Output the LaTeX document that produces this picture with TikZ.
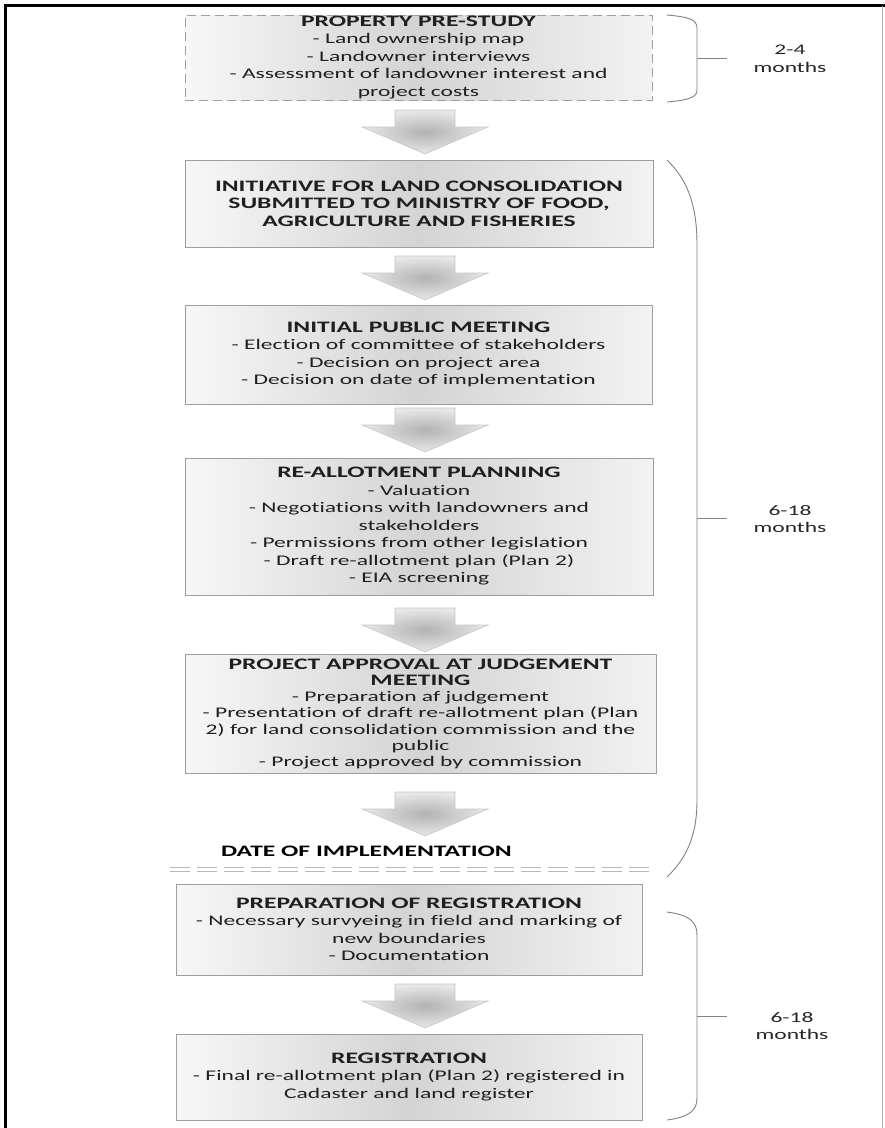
\documentclass[tikz,border=0pt]{standalone}
\usepackage{fontspec}
\setmainfont{Carlito}[FakeStretch=1.6,Ligatures=NoCommon]
\newcommand\bodyfont{\fontsize{14.7}{17.5}\selectfont}
\newcommand\ttl[1]{{\fontsize{16}{17.5}\selectfont\bfseries #1}}
\begin{document}
\begin{tikzpicture}[x=1pt,y=-1pt,
  box/.style={draw=black!38, line width=0.9pt, left color=black!3, right color=black!5, middle color=black!17,
    align=center, inner sep=0pt, font=\bodyfont, text=black!88},
  dbox/.style={box, dashed, dash pattern=on 9pt off 5pt},
  brace/.style={draw=black!50, line width=0.9pt},
  lbl/.style={align=center, font=\bodyfont, text=black!85, inner sep=1pt},
  sepline/.style={draw=black!28, line width=0.8pt, dash pattern=on 20pt off 7pt},
  barrow/.pic={\path[draw=black!22, line width=0.6pt, inner color=black!30, outer color=black!9]
     (-30,0) -- (30,0) -- (30,17) -- (63,17) -- (0,44) -- (-63,17) -- (-30,17) -- cycle;}
]
\useasboundingbox (0,0) rectangle (885,1128);
% frame
\draw[line width=3pt, black] (5,1128) -- (5,5) -- (885,5);
\draw[line width=0.8pt, black!30] (882,6) -- (882,1128);

% boxes
\node[dbox, minimum width=467, minimum height=85] (b1) at (418.5,57.5)
  {\ttl{PROPERTY PRE-STUDY}\\- Land ownership map\\- Landowner interviews\\- Assessment of landowner interest and\\project costs};
\node[box, minimum width=468, minimum height=87] (b2) at (419,203.5)
  {\ttl{INITIATIVE FOR LAND CONSOLIDATION}\\\ttl{SUBMITTED TO MINISTRY OF FOOD,}\\\ttl{AGRICULTURE AND FISHERIES}};
\node[box, minimum width=467, minimum height=99] (b3) at (418.5,354.5)
  {\ttl{INITIAL PUBLIC MEETING}\\- Election of committee of stakeholders\\- Decision on project area\\- Decision on date of implementation};
\node[box, minimum width=468, minimum height=137] (b4) at (419,526.5)
  {\ttl{RE-ALLOTMENT PLANNING}\\- Valuation\\- Negotiations with landowners and\\stakeholders\\- Permissions from other legislation\\- Draft re-allotment plan (Plan 2)\\- EIA screening};
\node[box, minimum width=471, minimum height=119, font=\fontsize{14.7}{16.3}\selectfont] (b5) at (420.5,714)
  {\ttl{PROJECT APPROVAL AT JUDGEMENT}\\\ttl{MEETING}\\- Preparation af judgement\\- Presentation of draft re-allotment plan (Plan\\2) for land consolidation commission and the\\public\\- Project approved by commission};
\node[anchor=west, inner sep=0pt, font=\fontsize{16}{17.5}\selectfont\bfseries] (doi) at (221,851) {DATE OF IMPLEMENTATION};
\node[box, minimum width=466, minimum height=91] (b6) at (409,929.5)
  {\ttl{PREPARATION OF REGISTRATION}\\- Necessary survyeing in field and marking of\\new boundaries\\- Documentation};
\node[box, minimum width=466, minimum height=86] (b7) at (409,1077)
  {\ttl{REGISTRATION}\\- Final re-allotment plan (Plan 2) registered in\\Cadaster and land register};

% block arrows
\pic at (425,110) {barrow};
\pic at (425,256) {barrow};
\pic at (425,408) {barrow};
\pic at (425,608) {barrow};
\pic at (425,792) {barrow};
\pic at (425,984) {barrow};

% implementation separator (double dashed)
\coordinate (s1) at (170,867);
\coordinate (s2) at (650,867);
\coordinate (s3) at (170,871);
\coordinate (s4) at (650,871);
\draw[sepline] (s1) -- (s2);
\draw[sepline] (s3) -- (s4);

% braces
\draw[brace] (667,15) .. controls (690,17) and (697,20) .. (697,28) -- (697,90) .. controls (697,97) and (690,100) .. (667,102);
\draw[brace] (667,160) .. controls (690,182) and (697,210) .. (697,245) -- (697,800) .. controls (697,830) and (690,855) .. (667,877);
\draw[brace] (667,912) .. controls (690,915) and (697,922) .. (697,935) -- (697,1098) .. controls (697,1110) and (690,1117) .. (667,1120);
\coordinate (t1a) at (697,58.5); \coordinate (t1b) at (727,58.5);
\coordinate (t2a) at (697,518.5); \coordinate (t2b) at (727,518.5);
\coordinate (t3a) at (697,1016); \coordinate (t3b) at (727,1016);
\draw[brace] (t1a) -- (t1b);
\draw[brace] (t2a) -- (t2b);
\draw[brace] (t3a) -- (t3b);

% labels
\node[lbl] (l1) at (790,59) {2-4\\months};
\node[lbl] (l2) at (790,519) {6-18\\months};
\node[lbl] (l3) at (792,1026) {6-18\\months};
\end{tikzpicture}
\end{document}
